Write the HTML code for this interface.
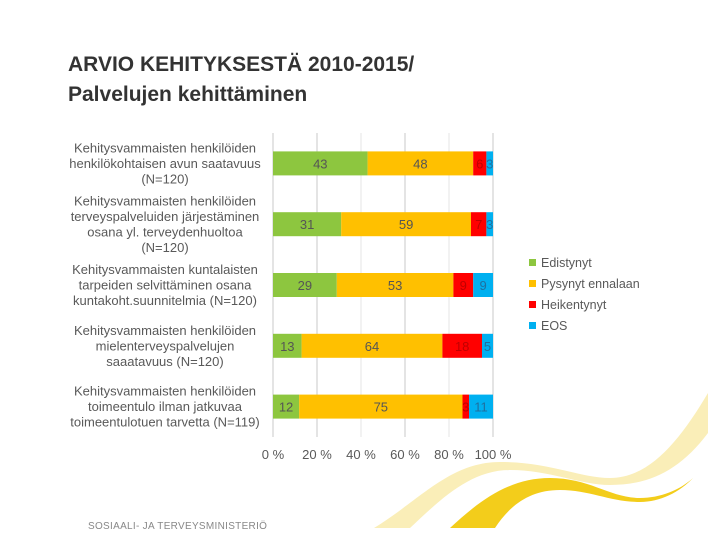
<!DOCTYPE html>
<html><head><meta charset="utf-8"><style>
body{margin:0;background:#fff;}
svg{display:block;font-family:"Liberation Sans",sans-serif;}
</style></head><body>
<svg width="720" height="540" viewBox="0 0 720 540">
<g>
<path d="M374 528 C420 500 450 462 500 462 C550 462 580 478 610 478 C650 478 680 440 708 393 L708 433 C680 470 650 485 610 485 C580 485 550 470 510 470 C470 470 440 500 410 528 Z" fill="#faeeb8"/>
<path d="M450 528 C480 500 510 478 550 478 C590 478 610 498 640 498 C660 498 680 490 693 478 C680 492 660 502 640 502 C610 502 590 490 560 490 C530 490 510 505 495 528 Z" fill="#f3cd1b"/>
</g>
<text x="68" y="71" font-size="21" font-weight="bold" fill="#333">ARVIO KEHITYKSESTÄ 2010-2015/</text>
<text x="68" y="101" font-size="21" font-weight="bold" fill="#333">Palvelujen kehittäminen</text>
<text x="88" y="529" font-size="10" fill="#888" letter-spacing="0.3">SOSIAALI- JA TERVEYSMINISTERIÖ</text>
<g id="chart"></g>
</svg>
<script>
const categories=[
["Kehitysvammaisten henkilöiden","henkilökohtaisen avun saatavuus","(N=120)"],
["Kehitysvammaisten henkilöiden","terveyspalveluiden järjestäminen","osana yl. terveydenhuoltoa","(N=120)"],
["Kehitysvammaisten kuntalaisten","tarpeiden selvittäminen osana","kuntakoht.suunnitelmia (N=120)"],
["Kehitysvammaisten henkilöiden","mielenterveyspalvelujen","saaatavuus (N=120)"],
["Kehitysvammaisten henkilöiden","toimeentulo ilman jatkuvaa","toimeentulotuen tarvetta (N=119)"]];
const edistynyt=[43,31,29,13,12];
const pysynyt=[48,59,53,64,75];
const heikentynyt=[6,7,9,18,3];
const eos=[3,3,9,5,11];
const seriesNames=["Edistynyt","Pysynyt ennalaan","Heikentynyt","EOS"];
const ticks=[0,20,40,60,80,100];
const colors=["#8dc63f","#ffc000","#ff0000","#00b0f0"];
const NS="http://www.w3.org/2000/svg";
const g=document.getElementById('chart');
const X0=273,X1=493,TOP=133,BOT=437;
const xs=v=>X0+(X1-X0)*v/100;
const band=(BOT-TOP)/categories.length;
const yc=i=>TOP+band*(i+0.5);
function mk(t,a){const e=document.createElementNS(NS,t);for(const k in a)e.setAttribute(k,a[k]);g.appendChild(e);return e;}
ticks.forEach((t,i)=>{
 if(t>0){const l=mk('line',{x1:xs(t),x2:xs(t),y1:TOP,y2:BOT,stroke:t%40==0?'#e4e4e4':'#c8c8c8','stroke-width':1});
 
 }
 const tx=mk('text',{x:xs(t),y:459,'font-size':13,fill:'#595959','text-anchor':'middle'});tx.textContent=t+' %';
 
 
});
const ax=mk('line',{x1:X0,x2:X0,y1:TOP,y2:BOT,stroke:'#c8c8c8'});


const series=[edistynyt,pysynyt,heikentynyt,eos];
categories.forEach((lines,i)=>{
 const tot=series.reduce((s,a)=>s+a[i],0);
 let acc=0;
 series.forEach((arr,s)=>{
  const v=arr[i];const a=xs(acc/tot*100),b=xs((acc+v)/tot*100);acc+=v;
  const r=mk('rect',{x:a,y:yc(i)-12,width:b-a,height:24,fill:colors[s]});
  
  
  const t=mk('text',{x:(a+b)/2,y:yc(i)+5,'font-size':13,fill:s==2?'#c00000':(s==3?'#1f6f9f':'#555'),'text-anchor':'middle'});t.textContent=v;
  
  
 });
 const n=lines.length,lh=15.5,y0=yc(i)-(n-1)*lh/2+4.5;
 lines.forEach((ln,k)=>{
  const t=mk('text',{x:165,y:y0+k*lh,'font-size':13,fill:'#595959','text-anchor':'middle'});t.textContent=ln;
  
  
 });
});
seriesNames.forEach((nm,s)=>{
 const y=264+s*21;
 const r=mk('rect',{x:529,y:y-5,width:7,height:7,fill:colors[s]});
 
 
 const t=mk('text',{x:541,y:y+3,'font-size':12.5,fill:'#595959'});t.textContent=nm;
 
 
});
</script>
</body></html>
